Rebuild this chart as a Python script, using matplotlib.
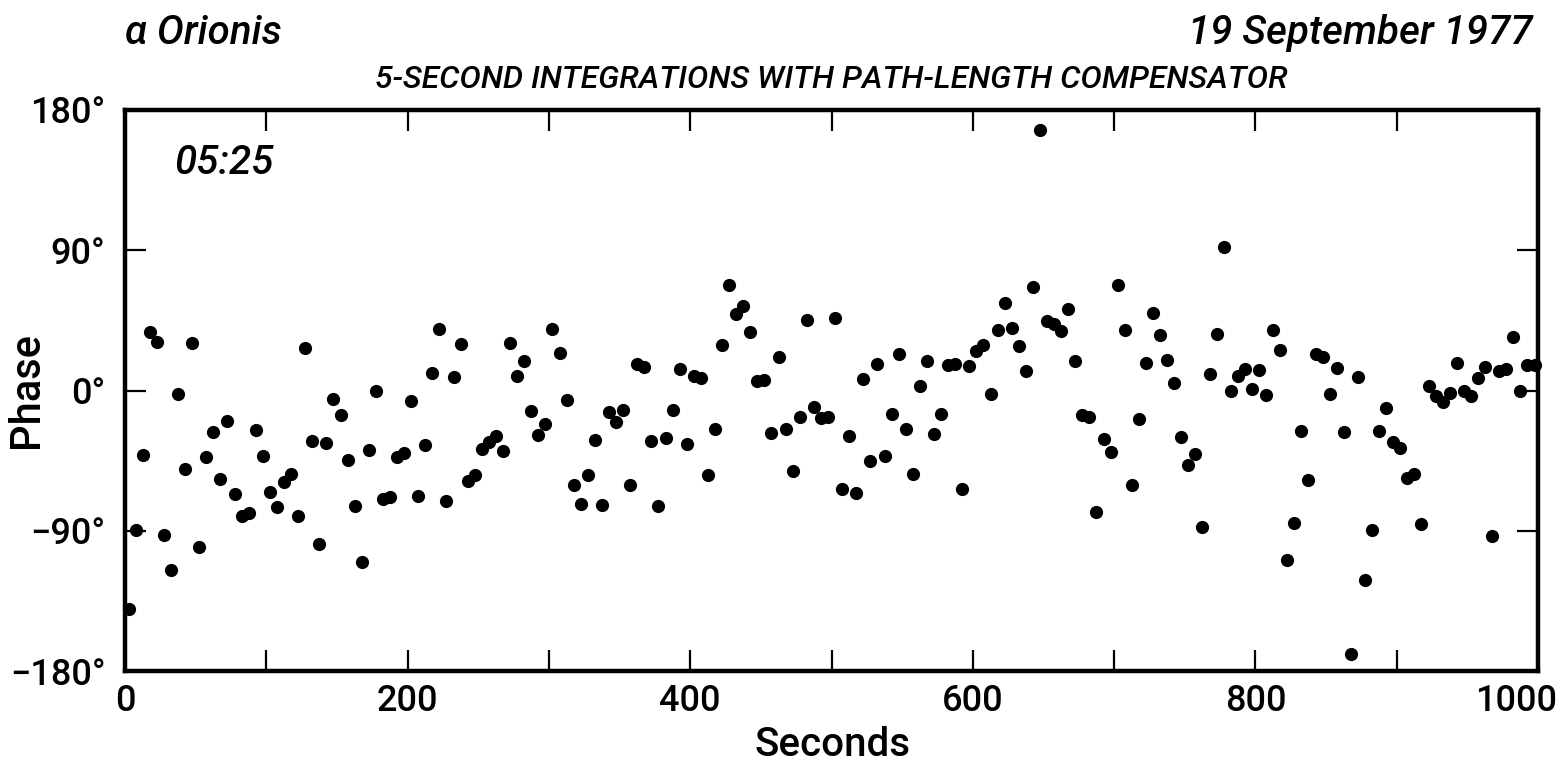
import numpy as np
import matplotlib
matplotlib.use("Agg")
import matplotlib.pyplot as plt
from matplotlib.transforms import ScaledTranslation

plt.rcParams['font.family'] = ['Roboto', 'DejaVu Sans']

# 5-second integrations (time of each point, s)
seconds = np.arange(2.5, 1000, 5.0)

phase_deg = [
    -140.2, -89.5, -41.4, 37.4, 31.3, -92.7, -115.2, -2.4, -50.4, 30.3,
    -100.6, -42.5, -26.8, -57.0, -19.8, -66.6, -80.6, -78.8, -25.5, -41.8,
    -65.0, -75.0, -58.5, -53.4, -80.4, 27.3, -32.2, -98.5, -33.9, -5.3,
    -15.9, -44.8, -74.3, -110.3, -38.0, -0.5, -69.4, -68.5, -42.7, -39.9,
    -6.7, -67.7, -34.8, 11.0, 39.3, -71.1, 8.9, 30.0, -57.9, -54.0,
    -37.7, -33.1, -29.0, -38.8, 30.3, 9.1, 18.9, -13.4, -28.8, -21.7,
    39.7, 24.3, -6.3, -60.8, -72.7, -54.2, -31.6, -73.5, -13.6, -20.0,
    -12.7, -60.8, 16.8, 15.1, -32.2, -73.9, -30.5, -12.3, 13.6, -34.5,
    9.1, 8.2, -54.0, -24.9, 29.4, 67.5, 48.9, 54.0, 37.5, 6.1,
    6.9, -27.5, 21.5, -24.9, -51.9, -16.8, 45.1, -10.4, -17.8, -17.0,
    46.3, -63.1, -29.5, -65.7, 7.3, -45.2, 16.7, -42.2, -15.1, 23.7,
    -24.4, -53.3, 2.6, 19.0, -27.7, -14.8, 16.2, 17.1, -63.2, 15.5,
    25.3, 29.0, -2.5, 38.8, 56.1, 40.4, 28.8, 12.5, 66.1, 167.2,
    44.7, 42.4, 38.4, 52.6, 18.9, -15.9, -17.2, -77.8, -31.3, -39.7,
    67.9, 39.0, -60.7, -18.1, 17.5, 49.9, 35.4, 19.8, 4.8, -30.0,
    -47.8, -40.6, -87.6, 10.4, 36.3, 92.3, -0.3, 9.5, 13.6, 0.8,
    13.2, -2.7, 38.8, 26.2, -108.8, -85.2, -25.7, -57.3, 23.4, 21.7,
    -2.1, 14.4, -26.4, -169.3, 8.9, -121.6, -89.7, -26.0, -11.2, -33.1,
    -36.7, -56.4, -53.8, -85.9, 2.9, -3.3, -7.6, -1.8, 17.8, -0.5,
    -3.5, 7.8, 15.1, -93.2, 12.3, 13.6, 34.3, -0.3, 16.4, 16.6,
]

x_ticks = [0, 200, 400, 600, 800, 1000]
x_minor = [100, 300, 500, 700, 900]
y_ticks = [-180, -90, 0, 90, 180]
y_ticklabels = ['\u2212180\u00b0', '\u221290\u00b0', '0\u00b0', '90\u00b0', '180\u00b0']

fig = plt.figure(figsize=(15.61, 7.66), dpi=100)
ax = fig.add_axes([0.0801, 0.124, 0.9052, 0.7324])

ax.plot(seconds, phase_deg, 'o', color='black', markersize=9.5,
        markeredgewidth=0, clip_on=False)

ax.set_xlim(0, 1000)
ax.set_ylim(-180, 180)

ax.set_xticks(x_ticks)
ax.set_xticks(x_minor, minor=True)
ax.set_xticklabels([str(v) for v in x_ticks])
ax.set_yticks(y_ticks)
ax.set_yticklabels(y_ticklabels)

for s in ax.spines.values():
    s.set_linewidth(3.2)

ax.tick_params(axis='both', which='both', direction='in', top=True, right=True,
               length=15, width=1.6, color='black')
ax.tick_params(axis='x', which='major', labelsize=26, pad=9)
ax.tick_params(axis='y', which='major', labelsize=26, pad=14)
for lab in ax.get_xticklabels() + ax.get_yticklabels():
    lab.set_fontweight('medium')

# the last x label sits slightly left of its tick in the reference
last = ax.get_xticklabels()[-1]
last.set_transform(last.get_transform() + ScaledTranslation(-0.22, 0, fig.dpi_scale_trans))

ax.set_xlabel('Seconds', fontsize=29, fontweight='medium')
ax.xaxis.label.set_va('baseline')
ax.xaxis.set_label_coords(0.501, -0.1515)
ax.set_ylabel('Phase', fontsize=30, fontweight='medium')
ax.yaxis.set_label_coords(-0.055, 0.5)

ax.text(0.035, 0.905, '05:25', transform=ax.transAxes, fontsize=29,
        style='italic', fontweight='medium', ha='left', va='center')

fig.text(125 / 1561, 1 - 33 / 766, '\u03b1 Orionis', fontsize=29,
         ha='left', va='center', style='italic', fontweight='medium')
fig.text(1533 / 1561, 1 - 33 / 766, '19 September 1977', fontsize=29,
         ha='right', va='center', style='italic', fontweight='medium')
fig.text(831 / 1561, 1 - 80 / 766,
         '5-SECOND INTEGRATIONS WITH PATH-LENGTH COMPENSATOR',
         fontsize=23, ha='center', va='center', style='italic', fontweight='medium')

fig.savefig('out.png', dpi=100, facecolor='white')
